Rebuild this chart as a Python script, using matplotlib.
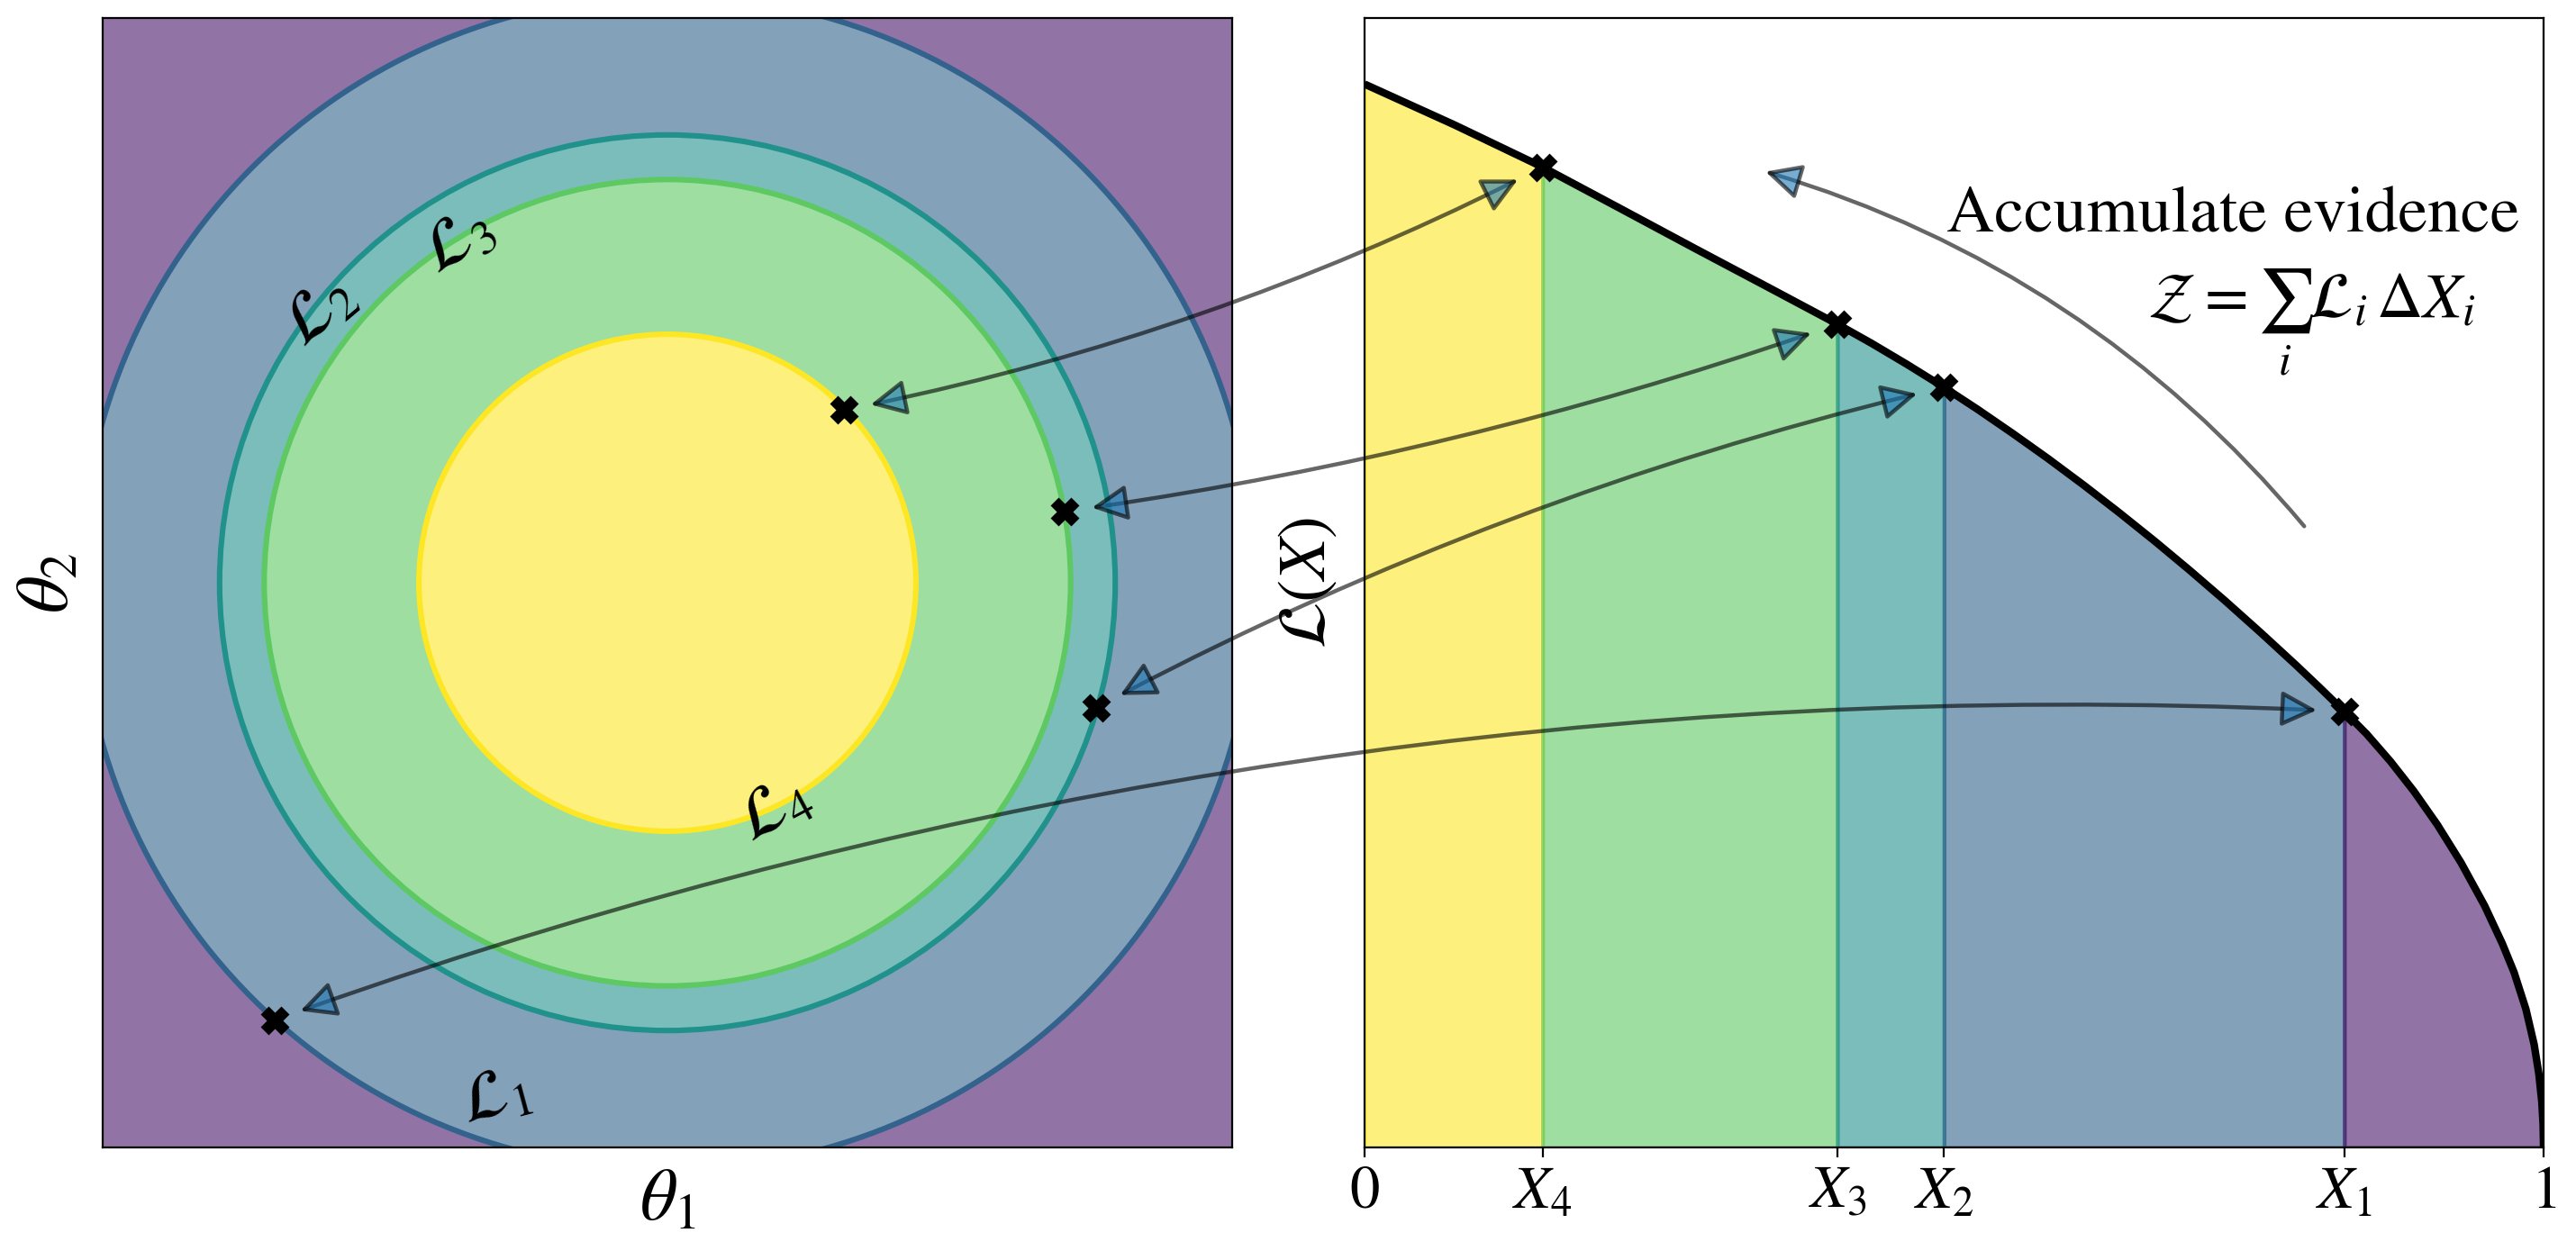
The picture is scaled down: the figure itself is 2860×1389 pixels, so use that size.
import numpy as np
import matplotlib
matplotlib.use("Agg")
import matplotlib.pyplot as plt
from matplotlib.patches import Circle, Wedge, ConnectionPatch, FancyArrowPatch

plt.rcParams['font.family'] = ['STIXGeneral', 'DejaVu Sans']
plt.rcParams['mathtext.fontset'] = 'stix'

# iso-likelihood contours in parameter space, outermost (L1) to innermost (L4)
contour_radii = [1.04, 0.793, 0.714, 0.44]
contour_names = [r'$\mathcal{L}_1$', r'$\mathcal{L}_2$', r'$\mathcal{L}_3$', r'$\mathcal{L}_4$']
label_theta1 = [-0.305, -0.615, -0.368, 0.19]
label_theta2 = [-0.914, 0.478, 0.601, -0.404]
label_rot = [15, 40, 30, 28]

# one live point on each contour
theta1_pts = [-0.696, 0.7585, 0.7033, 0.312]
theta2_pts = [-0.7746, -0.2217, 0.126, 0.3056]

# the same points in prior-volume space
X_pts = [0.831, 0.4915, 0.401, 0.151]
L_pts = [0.386, 0.673, 0.729, 0.868]
X_names = [r'$X_1$', r'$X_2$', r'$X_3$', r'$X_4$']

# L(X) curve
X_curve = [0.0, 0.076, 0.151, 0.215, 0.281, 0.34, 0.401, 0.43, 0.46, 0.4915,
           0.52, 0.55, 0.58, 0.61, 0.64, 0.67, 0.70, 0.73, 0.76, 0.79, 0.81,
           0.831, 0.85, 0.87, 0.89, 0.91, 0.93, 0.95, 0.965, 0.975, 0.985,
           0.992, 0.996, 0.9985, 0.9996, 1.0]
L_curve = [0.9415, 0.9055, 0.868, 0.8324, 0.7955, 0.7629, 0.729, 0.712, 0.6934, 0.673,
           0.6535, 0.632, 0.6097, 0.5864, 0.5621, 0.537, 0.5109, 0.4839, 0.4559, 0.4271,
           0.4073, 0.386, 0.366, 0.342, 0.3154, 0.2856, 0.2521, 0.214, 0.1805, 0.155,
           0.1225, 0.0912, 0.0651, 0.0403, 0.0205, 0.0]

# filled regions, outside -> inside (viridis steps)
fill_colors = ['#48186a', '#33638d', '#21918c', '#5ec962', '#fde725']
arc_rad = [0.10, 0.065, -0.05, -0.07]

fig = plt.figure(figsize=(14.3, 6.945), dpi=200)
axL = fig.add_axes([0.03986, 0.08279, 0.43846, 0.90281])
axR = fig.add_axes([0.52972, 0.08279, 0.45769, 0.90281])

# ---- left: parameter space ----
edges = [2.0] + contour_radii
for i, c in enumerate(fill_colors[:-1]):
    axL.add_patch(Wedge((0, 0), edges[i], 0, 360, width=edges[i] - edges[i + 1],
                        fc=c, alpha=0.6, lw=0))
axL.add_patch(Circle((0, 0), contour_radii[-1], fc=fill_colors[-1], alpha=0.6, lw=0))
for r, c in zip(contour_radii, fill_colors[1:]):
    axL.add_patch(Circle((0, 0), r, fill=False, ec=c, lw=2.2))
for x, y, s, rot in zip(label_theta1, label_theta2, contour_names, label_rot):
    axL.text(x, y, s, fontsize=27, rotation=rot, ha='center', va='center',
             rotation_mode='anchor')
axL.plot(theta1_pts, theta2_pts, 'X', color='k', ms=10, mec='k')
axL.set_xlim(-1, 1)
axL.set_ylim(-1, 1)
axL.set_xticks([])
axL.set_yticks([])
axL.set_xlabel(r'$\theta_1$', fontsize=29, labelpad=9)
axL.set_ylabel(r'$\theta_2$', fontsize=29, labelpad=8)

# ---- right: L(X) ----
Xc = np.array(X_curve)
Lc = np.array(L_curve)
bounds = [0.0] + X_pts[::-1] + [1.0]
for a, b, c in zip(bounds[:-1], bounds[1:], fill_colors[::-1]):
    m = (Xc >= a - 1e-9) & (Xc <= b + 1e-9)
    axR.fill_between(Xc[m], 0, Lc[m], fc=c, ec=c, alpha=0.6, lw=1.5)
axR.plot(Xc, Lc, color='k', lw=3, solid_capstyle='butt', solid_joinstyle='round')
axR.plot(X_pts, L_pts, 'X', color='k', ms=10, mec='k')
axR.set_xlim(0, 1)
axR.set_ylim(0, 1)
axR.set_xticks(bounds)
axR.set_xticklabels(['$0$'] + X_names[::-1] + ['$1$'])
axR.tick_params(axis='x', labelsize=24, length=4)
axR.set_yticks([])
axR.set_ylabel(r'$\mathcal{L}(X)$', fontsize=27, labelpad=10)

axR.text(0.98, 0.811, 'Accumulate evidence', fontsize=26.5, ha='right', va='baseline',
         transform=axR.transAxes)
axR.text(0.803, 0.735, r'$\mathcal{Z} = \sum_i \mathcal{L}_i\,\Delta X_i$', fontsize=25.5,
         ha='center', va='baseline', transform=axR.transAxes)
axR.add_patch(FancyArrowPatch((0.797, 0.550), (0.340, 0.864), transform=axR.transAxes,
                              arrowstyle='-|>,head_length=0.4,head_width=0.2',
                              connectionstyle='arc3,rad=0.15', mutation_scale=30,
                              fc='C0', ec='k', alpha=0.6, lw=1.6,
                              shrinkA=0, shrinkB=0))

# ---- links between the two panels ----
for xr, yr, t1, t2, rad in zip(X_pts, L_pts, theta1_pts, theta2_pts, arc_rad):
    con = ConnectionPatch(xyA=(xr, yr), coordsA=axR.transData,
                          xyB=(t1, t2), coordsB=axL.transData,
                          arrowstyle='<|-|>,head_length=0.4,head_width=0.2',
                          connectionstyle=f'arc3,rad={rad}', mutation_scale=30,
                          shrinkA=11, shrinkB=11, fc='C0', ec='k', alpha=0.6, lw=1.6)
    fig.add_artist(con)

fig.savefig('out.png', dpi=200)
